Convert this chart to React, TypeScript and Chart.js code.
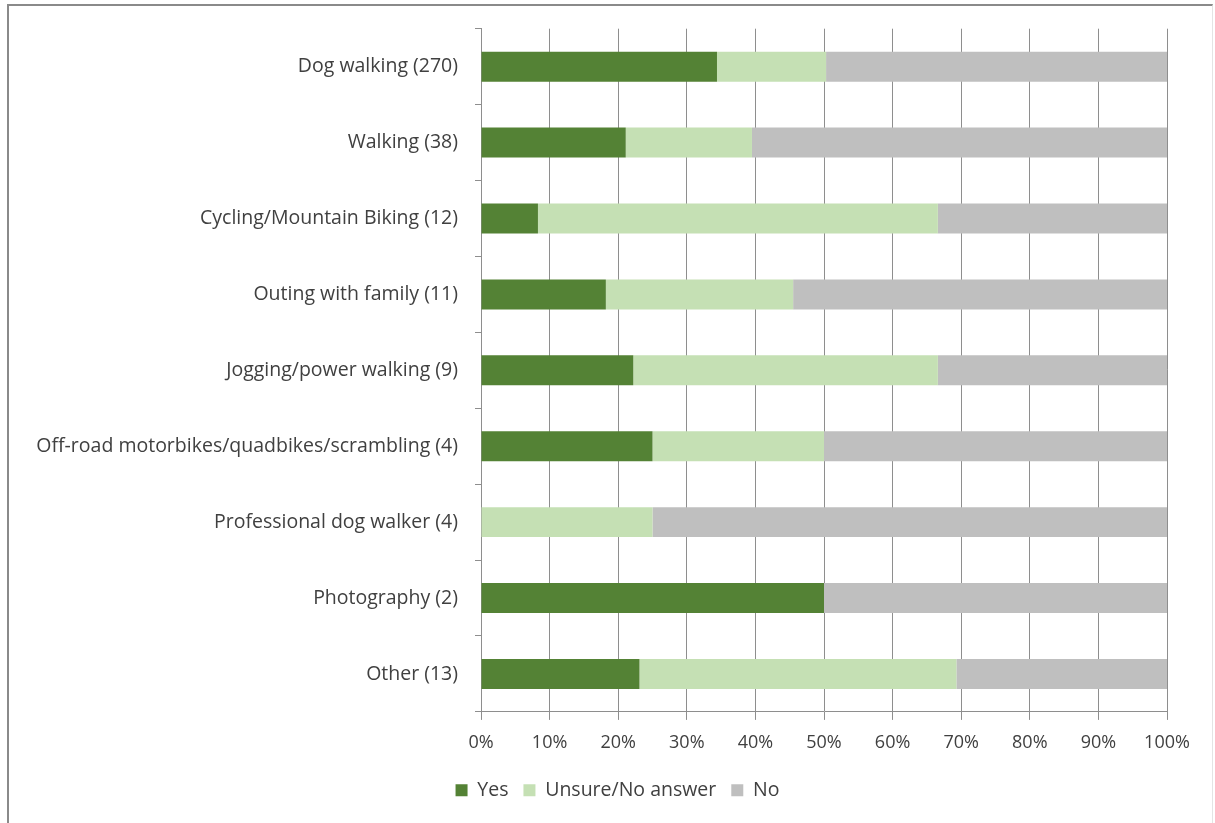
import React, { useEffect, useRef } from "react";
import { Chart, registerables } from "chart.js";

Chart.register(...registerables);

const categories = [
  "Dog walking (270)",
  "Walking (38)",
  "Cycling/Mountain Biking (12)",
  "Outing with family (11)",
  "Jogging/power walking (9)",
  "Off-road motorbikes/quadbikes/scrambling (4)",
  "Professional dog walker (4)",
  "Photography (2)",
  "Other (13)",
];

const yesValues = [34.4, 21.1, 8.3, 18.2, 22.2, 25, 0, 50, 23.1];
const unsureValues = [15.9, 18.4, 58.3, 27.3, 44.4, 25, 25, 0, 46.2];
const noValues = [49.7, 60.5, 33.4, 54.5, 33.4, 50, 75, 50, 30.7];

const seriesNames = ["Yes", "Unsure/No answer", "No"];
const seriesColors = ["#548235", "#C5E0B4", "#BFBFBF"];

const FONT = "'Open Sans', Lato, sans-serif";
const TEXT = "#404040";
const LINE = "#8E8E8E";

const legendShift = {
  id: "legendShift",
  afterLayout(chart: any) {
    const lg = chart.legend;
    if (lg) {
      lg.left += 34;
      lg.right += 34;
    }
  },
};

export default function App() {
  const ref = useRef<HTMLCanvasElement | null>(null);

  useEffect(() => {
    if (!ref.current) return;
    const chart = new Chart(ref.current, {
      type: "bar",
      data: {
        labels: categories,
        datasets: [yesValues, unsureValues, noValues].map((d, i) => ({
          label: seriesNames[i],
          data: d,
          backgroundColor: seriesColors[i],
          borderWidth: 0,
          categoryPercentage: 1,
          barPercentage: 0.395,
        })),
      },
      plugins: [legendShift],
      options: {
        indexAxis: "y",
        responsive: false,
        maintainAspectRatio: false,
        animation: false,
        devicePixelRatio: 1,
        layout: { padding: { left: 0, right: 48, top: 28, bottom: 13 } },
        plugins: {
          tooltip: { enabled: false },
          legend: {
            position: "bottom",
            labels: {
              boxWidth: 12,
              boxHeight: 12,
              padding: 15,
              color: TEXT,
              font: { family: FONT, size: 19.5 },
            },
          },
        },
        scales: {
          x: {
            stacked: true,
            min: 0,
            max: 100,
            ticks: {
              stepSize: 10,
              color: TEXT,
              font: { family: FONT, size: 18 },
              padding: 12,
              callback: (v: any) => v + "%",
            },
            grid: {
              color: LINE,
              lineWidth: 1,
              drawTicks: true,
              tickLength: 8,
            },
            border: { display: true, color: LINE, width: 1 },
          },
          y: {
            stacked: true,
            afterFit: (scale: any) => {
              scale.width = 481;
            },
            ticks: {
              color: TEXT,
              font: { family: FONT, size: 19.5 },
              padding: 17,
            },
            grid: {
              display: true,
              drawOnChartArea: false,
              drawTicks: true,
              tickLength: 6,
              color: LINE,
              offset: true,
            },
            border: { display: true, color: LINE, width: 1 },
          },
        },
      },
    });
    return () => chart.destroy();
  }, []);

  return (
    <div
      style={{
        position: "fixed",
        left: 0,
        top: 0,
        width: 1215,
        height: 823,
        background: "#ffffff",
        overflow: "hidden",
      }}
    >
      <canvas
        ref={ref}
        width={1215}
        height={823}
        style={{ display: "block", position: "absolute", left: 0, top: 0 }}
      />
      <div
        style={{
          position: "absolute",
          left: 7,
          top: 4,
          width: 1203,
          height: 840,
          borderLeft: "2px solid #8a8a8a",
          borderTop: "2px solid #8a8a8a",
          borderRight: "1px solid #e4e4e4",
          pointerEvents: "none",
        }}
      />
    </div>
  );
}
